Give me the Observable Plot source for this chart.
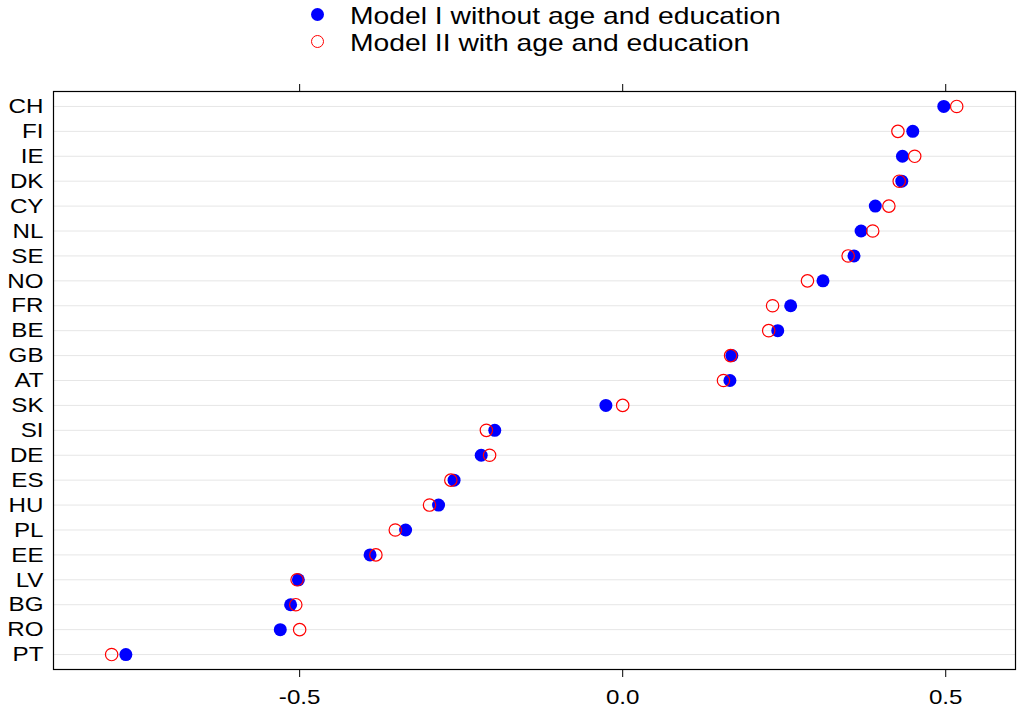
<!DOCTYPE html>
<html>
<head>
<meta charset="utf-8">
<script src="https://cdn.jsdelivr.net/npm/d3@7"></script>
<script src="https://cdn.jsdelivr.net/npm/@observablehq/plot@0.6"></script>
<style>
  body { margin: 0; background: #fff; font-family: "Liberation Sans", Arial, sans-serif; }
  #legend { position: relative; width: 1017px; height: 60px; }
  .lg { position: absolute; left: 350px; font-size: 24px; color: #000; line-height: 1; white-space: nowrap; transform: scaleX(1.178); transform-origin: left center; }
  .sym { position: absolute; box-sizing: border-box; border-radius: 50%; }
  svg { display: block; }
</style>
</head>
<body>
<div id="legend"></div>
<div id="chart"></div>
<script>
const countries = ["CH","FI","IE","DK","CY","NL","SE","NO","FR","BE","GB","AT","SK","SI","DE","ES","HU","PL","EE","LV","BG","RO","PT"];
const modelI  = [0.497,0.449,0.433,0.432,0.391,0.369,0.358,0.310,0.260,0.240,0.169,0.166,-0.026,-0.198,-0.219,-0.261,-0.285,-0.336,-0.391,-0.502,-0.514,-0.530,-0.769];
const modelII = [0.517,0.426,0.452,0.428,0.412,0.387,0.349,0.286,0.232,0.226,0.167,0.156,0.000,-0.211,-0.206,-0.266,-0.299,-0.352,-0.382,-0.504,-0.506,-0.500,-0.791];
const seriesNames = ["Model I without age and education", "Model II with age and education"];
const xTicks = [-0.5, 0.0, 0.5];

const dataI = countries.map((c, i) => ({country: c, value: modelI[i]}));
const dataII = countries.map((c, i) => ({country: c, value: modelII[i]}));

// legend (HTML, above the SVG)
const legend = document.getElementById("legend");
[
  {name: seriesNames[0], top: 4, fill: "#0000ff", stroke: "none"},
  {name: seriesNames[1], top: 31, fill: "none", stroke: "#ff0000"}
].forEach(d => {
  const s = document.createElement("div");
  s.className = "sym";
  s.style.left = "311px";
  s.style.top = (d.top + 4) + "px";
  s.style.width = "13px"; s.style.height = "13px";
  if (d.fill !== "none") s.style.background = d.fill;
  else s.style.border = "1.2px solid " + d.stroke;
  legend.appendChild(s);
  const t = document.createElement("div");
  t.className = "lg";
  t.style.top = d.top + "px";
  t.textContent = d.name;
  legend.appendChild(t);
});

const chart = Plot.plot({
  width: 1017,
  height: 653,
  marginTop: 31,
  marginBottom: 44,
  marginLeft: 53,
  marginRight: 2,
  style: {fontFamily: "'Liberation Sans', Arial, sans-serif", color: "#000", background: "#fff"},
  x: {domain: [-0.881, 0.608]},
  y: {type: "point", domain: countries, padding: 0.6, round: false},
  marks: [
    Plot.ruleY(countries, {y: d => d, stroke: "#e6e6e6", strokeWidth: 1}),
    Plot.axisX({anchor: "top", ticks: xTicks, tickSize: 8, tickFormat: () => "", label: null}),
    Plot.axisX({anchor: "bottom", ticks: xTicks, tickSize: 8, tickPadding: 12, tickFormat: d => d.toFixed(1), fontSize: 21, label: null}),
    Plot.axisY({anchor: "left", tickSize: 0, tickPadding: 10, fontSize: 21, label: null}),
    Plot.dot(dataI, {x: "value", y: "country", r: 6.5, fill: "#0000ff", stroke: "none"}),
    Plot.dot(dataII, {x: "value", y: "country", r: 6.2, fill: "none", stroke: "#ff0000", strokeWidth: 1.2}),
    Plot.frame({stroke: "#000", strokeWidth: 1.2})
  ]
});
document.getElementById("chart").appendChild(chart);

// widen axis text horizontally to match the reference's stretched glyphs
chart.querySelectorAll("text").forEach(t => {
  const w = t.getComputedTextLength();
  if (w > 0) {
    t.setAttribute("textLength", (w * 1.15).toFixed(1));
    t.setAttribute("lengthAdjust", "spacingAndGlyphs");
  }
});
</script>
</body>
</html>
